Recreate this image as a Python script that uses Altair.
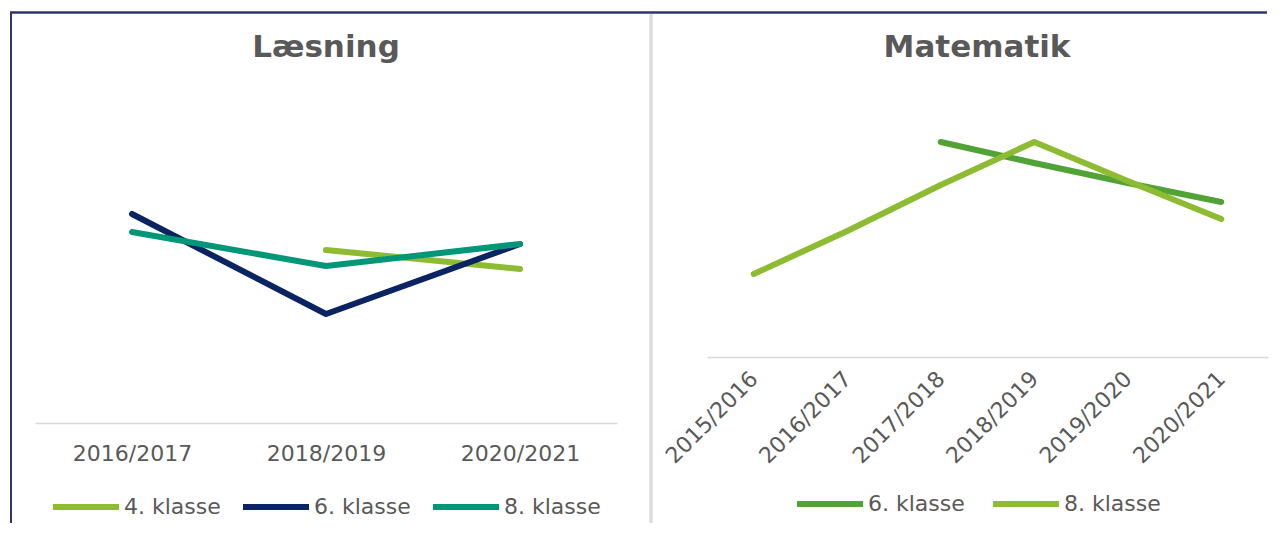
import altair as alt
import pandas as pd

# ---- data (no y axis, values in arbitrary units) ----
laes_years = ["2016/2017", "2018/2019", "2020/2021"]
laes_names = ["4. klasse", "6. klasse", "8. klasse"]
laes_4 = [None, 173, 154]
laes_6 = [209, 109, 179]
laes_8 = [191, 157, 179]

mat_years = ["2015/2016", "2016/2017", "2017/2018", "2018/2019", "2019/2020", "2020/2021"]
mat_names = ["6. klasse", "8. klasse"]
mat_6 = [None, None, 215, 194, 174, 155]
mat_8 = [83, 126, 172, 215, 176, 138]

laes_colors = ["#8DBB31", "#0A2362", "#009779"]
mat_colors = ["#52A336", "#8DBB31"]

FONT = "DejaVu Sans"
GREY = "#595959"
NAVY = "#2F3568"
SEP = "#DCDCDC"


def long_df(years, names, series):
    rows = []
    for name, vals in zip(names, series):
        for i, (yr, v) in enumerate(zip(years, vals)):
            if v is not None:
                rows.append({"aar": yr, "klasse": name, "vaerdi": v, "ordre": i})
    return pd.DataFrame(rows)


laes_df = long_df(laes_years, laes_names, [laes_4, laes_6, laes_8])
mat_df = long_df(mat_years, mat_names, [mat_6, mat_8])
one = pd.DataFrame({"k": [0]})


def panel(df, years, names, colors, title, title_x, width, height,
          label_angle, label_pad, legend_x, legend_y, col_pad):
    axis_kw = dict(
        domainColor="#D9D9D9", domainWidth=1.5, ticks=False, grid=False,
        labelFont=FONT, labelFontSize=22, labelColor=GREY,
        labelPadding=label_pad, title=None, labelAngle=label_angle,
    )
    if label_angle != 0:
        axis_kw.update(labelAlign="right", labelBaseline="middle")
    else:
        axis_kw.update(labelAlign="center", labelBaseline="top")
    lines = alt.Chart(df).mark_line(strokeWidth=6, strokeCap="round", strokeJoin="round").encode(
        x=alt.X("aar:N", sort=years, scale=alt.Scale(type="point", padding=0.5),
                axis=alt.Axis(**axis_kw)),
        y=alt.Y("vaerdi:Q", scale=alt.Scale(domain=[0, height], nice=False, zero=True), axis=None),
        color=alt.Color(
            "klasse:N",
            scale=alt.Scale(domain=names, range=colors),
            legend=alt.Legend(
                orient="none", legendX=legend_x, legendY=legend_y, direction="horizontal",
                title=None, symbolType="stroke", symbolSize=4356, symbolStrokeWidth=6,
                labelFont=FONT, labelFontSize=22, labelColor=GREY, labelOffset=2,
                columnPadding=col_pad, labelLimit=0, padding=0,
            ),
        ),
        order="ordre:Q",
    )
    heading = alt.Chart(one).mark_text(
        font=FONT, fontSize=31, fontWeight="bold", color=GREY,
        align="center", baseline="alphabetic",
    ).encode(x=alt.value(title_x), y=alt.value(-24), text=alt.value(title))
    return alt.layer(lines, heading).properties(width=width, height=height)


left = panel(laes_df, laes_years, laes_names, laes_colors, "Læsning", 291,
             582, 342, 0, 20, 15, 390, 10)
right = panel(mat_df, mat_years, mat_names, mat_colors, "Matematik", 270,
              561, 276, 315, 18, 87, 387, 16)

# frame: left navy border, top navy border, grey separator between panels
left_border = alt.Chart(one).mark_rule(color=NAVY, strokeWidth=2).encode(
    x=alt.value(-24), y=alt.value(-69), y2=alt.value(442))
top_border = alt.Chart(one).mark_rule(color=NAVY, strokeWidth=2.5).encode(
    x=alt.value(-25), x2=alt.value(1232), y=alt.value(-68.5))
separator = alt.Chart(one).mark_rule(color=SEP, strokeWidth=3.5).encode(
    x=alt.value(616), y=alt.value(-67), y2=alt.value(442))

left_full = alt.layer(left, left_border, separator, top_border)

chart = alt.hconcat(left_full, right, spacing=90, bounds="flush").resolve_scale(
    color="independent", x="independent", y="independent"
).properties(
    padding={"left": 0, "top": 3, "right": 0, "bottom": 0},
    background="white",
).configure_view(stroke=None)

chart.save("out.html", embed_options={"renderer": "svg", "actions": False})
